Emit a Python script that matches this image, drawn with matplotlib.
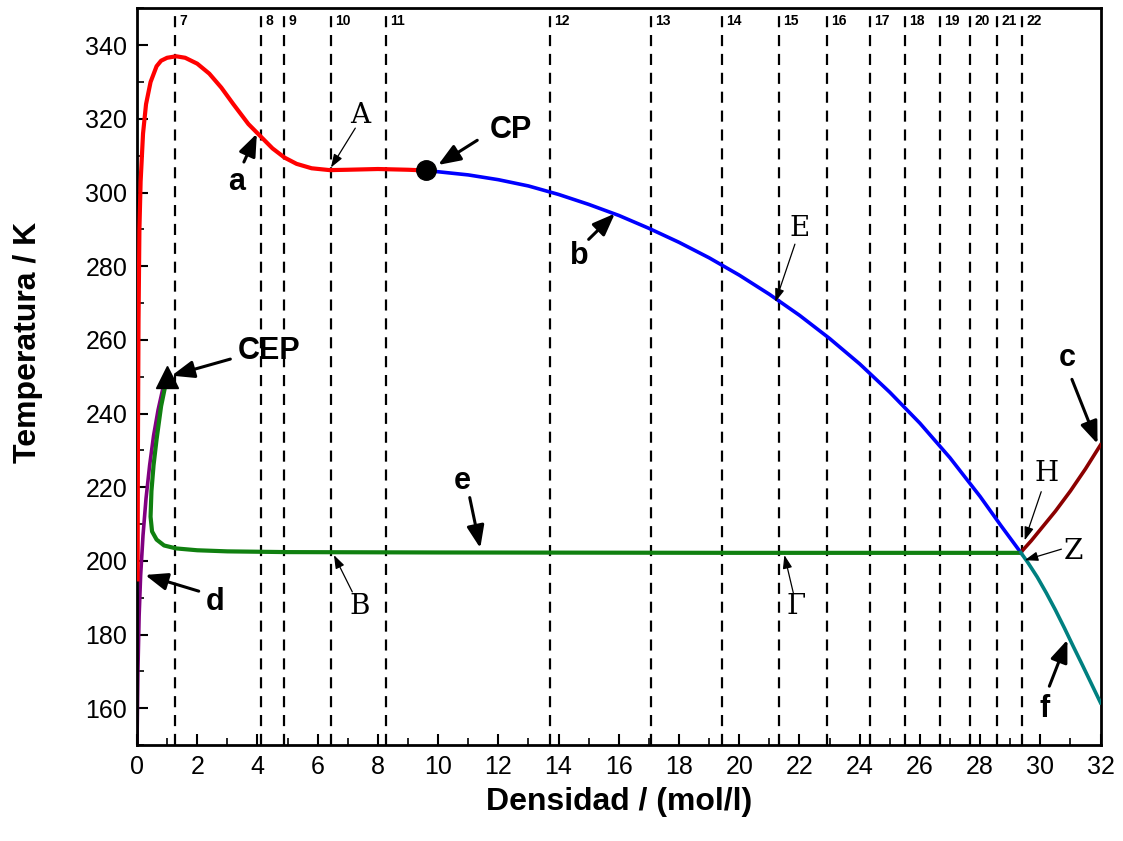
import numpy as np
import matplotlib.pyplot as plt
from matplotlib.ticker import MultipleLocator

# liquid-vapour branch, low density side up to the critical point (a)
a_rho = [0.02, 0.03, 0.05, 0.08, 0.12, 0.2, 0.3, 0.45, 0.65, 0.8, 1.0, 1.3, 1.6, 2.0,
         2.4, 2.8, 3.2, 3.7, 4.1, 4.5, 4.9, 5.3, 5.8, 6.4, 7.0, 8.0, 9.0, 9.6]
a_T = [195, 230, 265, 290, 303, 316, 324, 330, 334.3, 335.8, 336.6, 337, 336.6, 335,
       332.3, 328.5, 324, 318.6, 315.3, 312, 309.5, 307.8, 306.6, 306.1, 306.2, 306.4,
       306.2, 306]

# dense branch from the critical point (b)
b_rho = [9.6, 11, 12, 13, 14, 15, 16, 17, 18, 19, 20, 21, 22, 23, 24, 25, 26, 27, 28, 28.7, 29.35]
b_T = [306, 304.8, 303.5, 301.8, 299.5, 296.8, 293.8, 290.3, 286.5, 282.3, 277.6, 272.4,
       266.7, 260.4, 253.5, 245.8, 237.4, 228, 217.5, 209.5, 202.3]

# solid branches (c, f)
c_rho = [29.35, 29.7, 30.1, 30.5, 31.0, 31.5, 32]
c_T = [202.3, 205.5, 209.5, 213.5, 219, 225, 231.5]
f_rho = [29.35, 29.6, 29.9, 30.2, 30.5, 30.8, 31.1, 31.4, 31.7, 32]
f_T = [202.3, 199.4, 195.6, 191.3, 186.7, 181.8, 176.7, 171.7, 166.6, 161.5]

# branch ending at the CEP (d)
d_rho = [0.0, 0.03, 0.07, 0.12, 0.2, 0.3, 0.42, 0.55, 0.7, 0.85, 1.0]
d_T = [150, 170, 185, 196, 207, 217, 226, 234, 241, 246.5, 250]

# three-phase line (e)
e_rho = [1.0, 0.8, 0.65, 0.55, 0.48, 0.45, 0.5, 0.65, 0.9, 1.3, 2, 3, 5, 10, 20, 29.35]
e_T = [250, 242, 233, 226, 219, 212, 208, 205.8, 204.2, 203.4, 202.9, 202.6, 202.4,
       202.3, 202.2, 202.2]

cp = (9.6, 306)
cep = (1.0, 250)

# isochores and their numbers
iso_rho = [1.26, 4.12, 4.88, 6.44, 8.27, 13.71, 17.06, 19.42, 21.31, 22.9, 24.33,
           25.49, 26.66, 27.65, 28.55, 29.38]
iso_lab = [str(i) for i in range(7, 23)]

# labels: text, text position, arrow tail, arrow head
bold_tags = [
    ('CP', (12.4, 317), (11.3, 314.2), (10.0, 307.5)),
    ('CEP', (4.4, 257), (3.1, 254.8), (1.15, 250.3)),
    ('a', (3.3, 303), (3.55, 308.3), (3.98, 316)),
    ('b', (14.7, 282.8), (15.0, 287.3), (15.87, 294.3)),
    ('c', (30.9, 255), (31.05, 249.3), (31.9, 231.8)),
    ('d', (2.6, 188.8), (2.05, 191.8), (0.27, 196.2)),
    ('e', (10.8, 221.8), (11.05, 217.2), (11.4, 203.5)),
    ('f', (30.15, 159.8), (30.3, 166), (30.9, 178.6)),
]
serif_tags = [
    ('A', (7.4, 321), (7.25, 317.5), (6.44, 306.8)),
    ('B', (7.4, 187.5), (7.15, 191.6), (6.54, 201.6)),
    ('E', (22.0, 290.2), (21.85, 286), (21.2, 270.3)),
    ('Γ', (21.9, 187.5), (21.8, 191.2), (21.5, 201.6)),
    ('H', (30.2, 223.7), (30.03, 218.8), (29.48, 205.6)),
    ('Z', (31.1, 202.5), (30.7, 203.2), (29.48, 200.2)),
]

plt.rcParams['font.family'] = ['Liberation Sans', 'DejaVu Sans']
fig = plt.figure(figsize=(11.23, 8.41), dpi=100)
ax = fig.add_axes([0.122, 0.114, 0.858, 0.876])

for r, lab in zip(iso_rho, iso_lab):
    ax.axvline(r, color='black', lw=1.6, ls=(0, (5, 3.5)), zorder=1)
    ax.text(r + 0.15, 346.6, lab, fontsize=10, fontweight='bold', ha='left', va='center')

ax.plot(d_rho, d_T, color='#800080', lw=2.6, zorder=2)
ax.plot(a_rho, a_T, color='#ff0000', lw=3, zorder=3)
ax.plot(b_rho, b_T, color='#0000ff', lw=2.6, zorder=3)
ax.plot(e_rho, e_T, color='#108010', lw=3, zorder=3)
ax.plot(c_rho, c_T, color='#8b0000', lw=2.6, zorder=3)
ax.plot(f_rho, f_T, color='#008080', lw=2.6, zorder=3)
ax.plot(*cp, 'o', color='black', ms=14, zorder=5)
ax.plot(*cep, '^', color='black', ms=16, zorder=5)

bold = dict(arrowstyle='-|>,head_length=0.9,head_width=0.35', color='black', lw=2.2,
            mutation_scale=15, shrinkA=0, shrinkB=0)
thin = dict(arrowstyle='-|>,head_length=1.0,head_width=0.35', color='black', lw=0.9,
            mutation_scale=8, shrinkA=0, shrinkB=0)

for txt, pos, tail, head in bold_tags:
    ax.text(*pos, txt, fontsize=22, fontweight='bold', ha='center', va='center', zorder=6)
    ax.annotate('', xy=head, xytext=tail, arrowprops=bold, zorder=6)
for txt, pos, tail, head in serif_tags:
    ax.text(*pos, txt, fontsize=20, family='DejaVu Serif', ha='center', va='center', zorder=6)
    ax.annotate('', xy=head, xytext=tail, arrowprops=thin, zorder=6)

ax.set_xlim(0, 32)
ax.set_ylim(150, 350)
ax.xaxis.set_major_locator(MultipleLocator(2))
ax.xaxis.set_minor_locator(MultipleLocator(1))
ax.yaxis.set_minor_locator(MultipleLocator(10))
ax.set_yticks(np.arange(160, 341, 20))
ax.tick_params(which='major', direction='in', length=8, width=1.5, labelsize=18, pad=7)
ax.tick_params(which='minor', direction='in', length=5, width=1.2)
for s in ax.spines.values():
    s.set_linewidth(2)

ax.set_xlabel('Densidad / (mol/l)', fontsize=23, fontweight='bold', labelpad=6)
ax.set_ylabel('Temperatura / K', fontsize=23, fontweight='bold', va='center')
ax.yaxis.set_label_coords(-0.113, 0.547)

fig.savefig('out.png', dpi=100)
